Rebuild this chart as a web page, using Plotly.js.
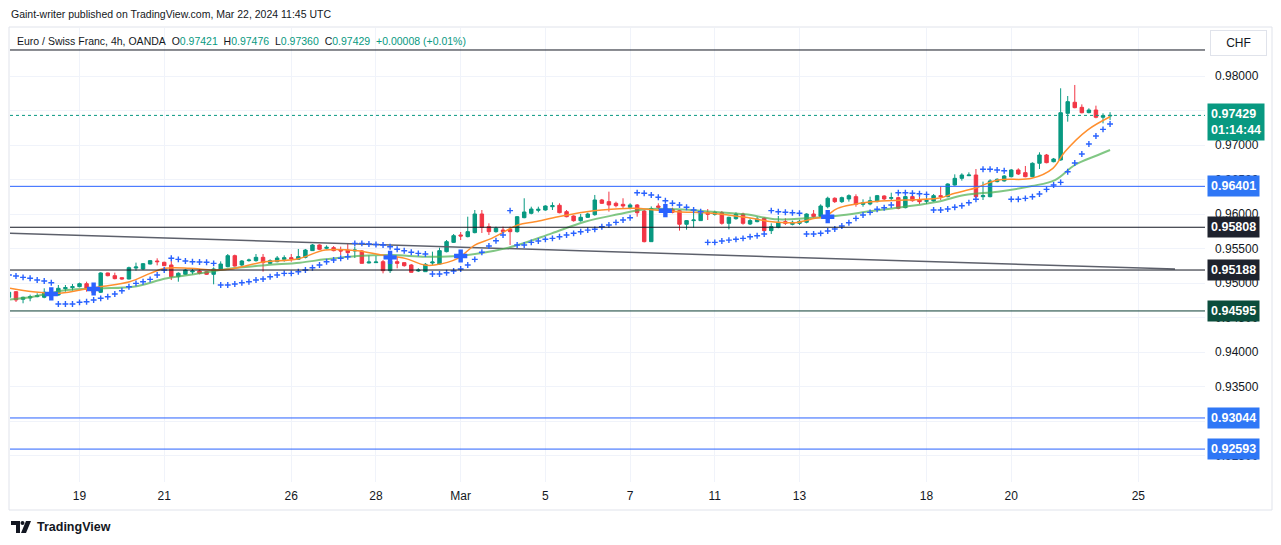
<!DOCTYPE html>
<html>
<head>
<meta charset="utf-8">
<script src="https://cdn.plot.ly/plotly-3.0.1.min.js"></script>
<style>
  html, body { margin: 0; padding: 0; background: #fff; }
  #chart { width: 1281px; height: 545px; }
</style>
</head>
<body>
<div id="chart"></div>
<script>
// EUR/CHF 4h bars (OANDA), one entry per bar, oldest first
const opens = [
  0.94793,0.94874,0.94764,0.94783,0.94802,0.94793,0.94866,0.94826,0.94918,0.94933,
  0.94947,0.94990,0.94923,0.94865,0.95145,0.95106,0.95077,0.95058,0.95217,0.95203,
  0.95275,0.95319,0.95300,0.95261,0.95092,0.95126,0.95160,0.95174,0.95164,0.95126,
  0.95198,0.95237,0.95396,0.95261,0.95324,0.95324,0.95372,0.95285,0.95309,0.95343,
  0.95367,0.95343,0.95372,0.95469,0.95551,0.95503,0.95512,0.95478,0.95478,0.95464,
  0.95464,0.95290,0.95295,0.95309,0.95179,0.95309,0.95295,0.95261,0.95174,0.95164,
  0.95290,0.95275,0.95454,0.95589,0.95696,0.95672,0.95730,0.96000,0.95817,0.95744,
  0.95768,0.95778,0.95744,0.95947,0.96010,0.96053,0.96058,0.96106,0.96126,0.96034,
  0.95971,0.95903,0.95952,0.95990,0.96203,0.96179,0.96155,0.96140,0.96097,0.96131,
  0.96043,0.95599,0.96116,0.96082,0.96068,0.96048,0.95851,0.95904,0.95904,0.96024,
  0.95995,0.96019,0.95865,0.95932,0.95999,0.95855,0.95889,0.95938,0.95759,0.95807,
  0.95889,0.95851,0.95865,0.95880,0.96000,0.95967,0.96106,0.96228,0.96179,0.96218,
  0.96251,0.96140,0.96145,0.96179,0.96261,0.96227,0.96237,0.96092,0.96252,0.96203,
  0.96184,0.96189,0.96266,0.96251,0.96420,0.96517,0.96555,0.96565,0.96251,0.96251,
  0.96469,0.96479,0.96541,0.96638,0.96599,0.96541,0.96735,0.96855,0.96758,0.96783,
  0.97459,0.97619,0.97546,0.97469,0.97507,0.97402,0.97421
];
const highs = [
  0.94899,0.94884,0.94802,0.94831,0.94851,0.94923,0.94890,0.94971,0.94971,0.94986,
  0.95005,0.95019,0.94957,0.95155,0.95150,0.95150,0.95082,0.95237,0.95295,0.95290,
  0.95329,0.95358,0.95309,0.95324,0.95155,0.95208,0.95203,0.95203,0.95174,0.95227,
  0.95314,0.95420,0.95411,0.95333,0.95353,0.95420,0.95420,0.95343,0.95391,0.95401,
  0.95420,0.95493,0.95493,0.95565,0.95560,0.95546,0.95536,0.95527,0.95575,0.95527,
  0.95478,0.95401,0.95391,0.95333,0.95406,0.95382,0.95300,0.95275,0.95213,0.95290,
  0.95454,0.95512,0.95623,0.95710,0.95739,0.95961,0.96058,0.96058,0.95865,0.95817,
  0.95817,0.95817,0.95971,0.96228,0.96106,0.96106,0.96126,0.96169,0.96155,0.96058,
  0.95981,0.96000,0.96019,0.96276,0.96218,0.96324,0.96179,0.96228,0.96155,0.96145,
  0.96058,0.96110,0.96155,0.96097,0.96092,0.96058,0.95913,0.96019,0.96043,0.96072,
  0.96048,0.96043,0.95961,0.96024,0.96019,0.95938,0.95961,0.95952,0.95865,0.95971,
  0.95938,0.95904,0.95918,0.96010,0.96058,0.96140,0.96251,0.96242,0.96252,0.96285,
  0.96285,0.96213,0.96251,0.96276,0.96271,0.96309,0.96252,0.96261,0.96276,0.96251,
  0.96261,0.96290,0.96396,0.96445,0.96575,0.96590,0.96604,0.96652,0.96469,0.96503,
  0.96517,0.96565,0.96652,0.96662,0.96696,0.96749,0.96894,0.96870,0.96812,0.97822,
  0.97710,0.97870,0.97589,0.97532,0.97570,0.97459,0.97476
];
const lows = [
  0.94768,0.94725,0.94706,0.94735,0.94793,0.94779,0.94800,0.94817,0.94874,0.94889,
  0.94937,0.94874,0.94841,0.94855,0.95097,0.95053,0.95048,0.95053,0.95179,0.95193,
  0.95270,0.95256,0.95246,0.95043,0.95019,0.95116,0.95126,0.95126,0.95116,0.94981,
  0.95188,0.95227,0.95237,0.95246,0.95309,0.95309,0.95164,0.95275,0.95300,0.95309,
  0.95309,0.95333,0.95357,0.95464,0.95478,0.95483,0.95459,0.95406,0.95372,0.95362,
  0.95285,0.95285,0.95290,0.95140,0.95145,0.95213,0.95237,0.95150,0.95160,0.95160,
  0.95261,0.95261,0.95444,0.95580,0.95623,0.95662,0.95720,0.95725,0.95696,0.95730,
  0.95720,0.95551,0.95730,0.95938,0.95995,0.96024,0.96048,0.96058,0.96010,0.95952,
  0.95889,0.95889,0.95942,0.95976,0.96145,0.96034,0.96097,0.96082,0.96068,0.95961,
  0.95589,0.95594,0.96068,0.96010,0.96010,0.95759,0.95773,0.95802,0.95899,0.95913,
  0.95976,0.95846,0.95778,0.95918,0.95846,0.95841,0.95880,0.95749,0.95710,0.95793,
  0.95841,0.95836,0.95841,0.95865,0.95947,0.95957,0.96082,0.96160,0.96160,0.96179,
  0.96106,0.96106,0.96126,0.96169,0.96203,0.96203,0.96068,0.96082,0.96179,0.96145,
  0.96145,0.96179,0.96203,0.96242,0.96411,0.96483,0.96550,0.96228,0.96203,0.96242,
  0.96459,0.96469,0.96531,0.96565,0.96532,0.96532,0.96652,0.96735,0.96749,0.96773,
  0.97338,0.97532,0.97459,0.97459,0.97387,0.97314,0.97360
];
const closes = [
  0.94866,0.94754,0.94793,0.94802,0.94817,0.94866,0.94826,0.94923,0.94933,0.94947,
  0.94990,0.94923,0.94860,0.95145,0.95106,0.95063,0.95058,0.95222,0.95232,0.95280,
  0.95324,0.95309,0.95251,0.95092,0.95141,0.95188,0.95174,0.95140,0.95126,0.95203,
  0.95275,0.95396,0.95246,0.95319,0.95333,0.95372,0.95295,0.95324,0.95362,0.95367,
  0.95348,0.95382,0.95478,0.95551,0.95488,0.95517,0.95469,0.95464,0.95440,0.95478,
  0.95285,0.95304,0.95304,0.95179,0.95319,0.95285,0.95251,0.95155,0.95188,0.95271,
  0.95304,0.95469,0.95599,0.95686,0.95681,0.95744,0.96000,0.95807,0.95744,0.95793,
  0.95744,0.95744,0.95961,0.96029,0.96072,0.96068,0.96116,0.96121,0.96019,0.95961,
  0.95903,0.95952,0.96000,0.96203,0.96155,0.96131,0.96121,0.96116,0.96131,0.96019,
  0.95599,0.96080,0.96097,0.96024,0.96024,0.95851,0.95904,0.95913,0.96019,0.95995,
  0.96024,0.95865,0.95952,0.95999,0.95865,0.95904,0.95928,0.95759,0.95817,0.95880,
  0.95865,0.95880,0.95894,0.96000,0.95962,0.96116,0.96228,0.96179,0.96237,0.96266,
  0.96140,0.96164,0.96193,0.96266,0.96218,0.96237,0.96082,0.96252,0.96193,0.96179,
  0.96193,0.96266,0.96251,0.96435,0.96517,0.96565,0.96565,0.96251,0.96266,0.96479,
  0.96503,0.96551,0.96638,0.96580,0.96541,0.96735,0.96855,0.96744,0.96797,0.97468,
  0.97628,0.97541,0.97468,0.97507,0.97402,0.97425,0.97429
];
// parabolic SAR, one value per bar
const sar = [
  0.95115,0.95101,0.95082,0.95068,0.95043,0.95029,0.95004,0.94695,0.94695,0.94695,
  0.94720,0.94728,0.94753,0.94778,0.94801,0.94840,0.94888,0.94946,0.94995,0.95018,
  0.95053,0.95115,0.95188,0.95358,0.95343,0.95318,0.95308,0.95304,0.95300,0.95285,
  0.94971,0.94971,0.94985,0.95004,0.95018,0.95043,0.95057,0.95091,0.95115,0.95140,
  0.95140,0.95163,0.95188,0.95221,0.95260,0.95308,0.95333,0.95358,0.95381,0.95575,
  0.95575,0.95565,0.95558,0.95551,0.95526,0.95489,0.95468,0.95445,0.95430,0.95420,
  0.95130,0.95130,0.95149,0.95173,0.95202,0.95260,0.95343,0.95445,0.95536,0.95613,
  0.95695,0.96049,0.95551,0.95551,0.95589,0.95608,0.95633,0.95647,0.95671,0.95695,
  0.95720,0.95743,0.95767,0.95778,0.95815,0.95840,0.95879,0.95913,0.95946,0.96308,
  0.96300,0.96275,0.96242,0.96192,0.96155,0.96130,0.96097,0.96058,0.96033,0.95589,
  0.95589,0.95608,0.95622,0.95633,0.95647,0.95671,0.95685,0.95710,0.96049,0.96033,
  0.96025,0.96019,0.96010,0.95710,0.95710,0.95720,0.95753,0.95782,0.95826,0.95874,
  0.95937,0.95985,0.96024,0.96068,0.96091,0.96130,0.96308,0.96308,0.96300,0.96294,
  0.96285,0.96058,0.96058,0.96072,0.96097,0.96120,0.96163,0.96213,0.96648,0.96648,
  0.96637,0.96627,0.96213,0.96213,0.96227,0.96250,0.96289,0.96357,0.96420,0.96459,
  0.96613,0.96739,0.96869,0.97014,0.97130,0.97227,0.97304
];
// fast moving average (orange), read at bar positions
const fastX = [0.15,3.4,6.8,10.1,12.9,17.1,20,22.1,25.6,28.9,31.3,33,36.3,40.9,44.8,49.4,52.8,56.1,58.9,60.3,63.6,66,68.4,72.1,74.5,77.8,81.6,84,88.7,91.5,94.8,99.6,104.3,108.1,111.3,114.2,115.6,117.4,122.2,126.9,131.6,134,136.8,140.1,144.9,147.9,149.6,152.8,156];
const fastY = [0.94923,0.94873,0.94850,0.94898,0.94946,0.95018,0.95140,0.95213,0.95213,0.95188,0.95198,0.95236,0.95308,0.95347,0.95478,0.95468,0.95405,0.95357,0.95260,0.95260,0.95357,0.95550,0.95647,0.95840,0.95888,0.95960,0.96029,0.96058,0.96082,0.96058,0.96033,0.96010,0.95952,0.95888,0.95874,0.95937,0.95961,0.96082,0.96178,0.96203,0.96227,0.96300,0.96372,0.96492,0.96517,0.96662,0.96902,0.97217,0.97410];
// slow moving average (green)
const slowX = [0.15,3.4,8.2,12.9,17.6,22.4,27.1,31.7,36.6,41.2,44.8,49.4,54.3,59,63.6,68.8,72.1,76.9,81.6,86.3,90.1,94.8,99.6,104.3,108.9,112.8,117.4,122.2,126.9,131.6,135.4,140.1,144.9,148.2,151,154.3,156];
const slowY = [0.94760,0.94801,0.94898,0.94923,0.94946,0.95068,0.95140,0.95213,0.95260,0.95294,0.95343,0.95391,0.95405,0.95381,0.95391,0.95468,0.95550,0.95720,0.95888,0.95995,0.96068,0.96068,0.96033,0.95995,0.95923,0.95937,0.95975,0.96043,0.96105,0.96178,0.96275,0.96323,0.96405,0.96492,0.96710,0.96855,0.96927];
// average cross markers
const crossX = [6, 12, 54, 64, 93, 116];
const crossY = [0.94841, 0.94913, 0.95372, 0.95391, 0.96048, 0.95961];
// descending trend line
const trendX = [0.15, 165.2];
const trendY = [0.95720, 0.95202];
// horizontal levels
const levels = [0.96401, 0.95808, 0.95188, 0.94595, 0.93044, 0.92593];
const topLevel = 0.98377;
const lastPrice = 0.97429;
const timer = '01:14:44';
const dayTicks = [10, 22, 40, 52, 64, 76, 88, 100, 112, 130, 142, 160];
const dayLabels = ['19', '21', '26', '28', 'Mar', '5', '7', '11', '13', '18', '20', '25'];
const priceTicks = [0.925, 0.93, 0.935, 0.94, 0.945, 0.95, 0.955, 0.96, 0.965, 0.97, 0.975, 0.98];

const levelColors = ['#2962ff', '#131722', '#131722', '#0b3d32', '#2962ff', '#2962ff'];
const labelColors = ['#2f77f6', '#1e222d', '#1e222d', '#0b4d3c', '#2f77f6', '#2f77f6'];

const FONT = 'Liberation Sans, Arial, sans-serif';
const TOP = 28, BOTTOM = 482, LEFT = 10, RIGHT = 1205;
const px = v => (v - LEFT) / (RIGHT - LEFT);
const py = v => 1 - (v - TOP) / (BOTTOM - TOP);

const bars = opens.map((_, i) => i);

const traces = [
  {
    type: 'candlestick',
    x: bars, open: opens, high: highs, low: lows, close: closes,
    increasing: { line: { color: '#089981', width: 1 }, fillcolor: '#089981' },
    decreasing: { line: { color: '#f23645', width: 1 }, fillcolor: '#f23645' },
    whiskerwidth: 0,
    hoverinfo: 'skip'
  },
  {
    type: 'scatter', mode: 'lines', x: trendX, y: trendY,
    line: { color: '#5d606b', width: 1.5 }, hoverinfo: 'skip'
  },
  {
    type: 'scatter', mode: 'lines', x: slowX, y: slowY,
    line: { color: 'rgba(76,175,80,0.7)', width: 2, shape: 'spline' }, hoverinfo: 'skip'
  },
  {
    type: 'scatter', mode: 'lines', x: fastX, y: fastY,
    line: { color: '#ff8f2e', width: 1.5, shape: 'spline' }, hoverinfo: 'skip'
  },
  {
    type: 'scatter', mode: 'markers', x: bars, y: sar,
    marker: { symbol: 'cross-thin', size: 4.2, color: '#2962ff', line: { width: 1.4, color: '#2962ff' } },
    hoverinfo: 'skip'
  },
  {
    type: 'scatter', mode: 'markers', x: crossX, y: crossY,
    marker: { symbol: 'cross', size: 11, color: '#2962ff', line: { width: 0 } }, hoverinfo: 'skip'
  }
];

const shapes = [
  // chart frame
  { type: 'rect', xref: 'paper', yref: 'paper', x0: px(9), x1: px(1272), y0: py(27), y1: py(510),
    line: { color: '#e0e3eb', width: 1 }, layer: 'below' },
  { type: 'line', xref: 'paper', yref: 'y', x0: 0, x1: 1, y0: topLevel, y1: topLevel,
    line: { color: '#131722', width: 1 } },
  { type: 'line', xref: 'paper', yref: 'y', x0: 0, x1: 1, y0: lastPrice, y1: lastPrice,
    line: { color: '#089981', width: 1, dash: 'dot' } }
];
levels.forEach((lv, k) => {
  shapes.push({ type: 'line', xref: 'paper', yref: 'y', x0: 0, x1: 1, y0: lv, y1: lv,
    line: { color: levelColors[k], width: 1 } });
});

const annotations = [
  { xref: 'paper', yref: 'paper', x: px(9), y: py(14), xanchor: 'left', yanchor: 'middle', showarrow: false,
    text: 'Gaint-writer published on TradingView.com, Mar 22, 2024 11:45 UTC',
    font: { family: FONT, size: 10.5, color: '#131722' } },
  { xref: 'paper', yref: 'paper', x: px(15), y: py(41), xanchor: 'left', yanchor: 'middle', showarrow: false,
    text: 'Euro / Swiss Franc, 4h, OANDA&nbsp; O<span style="color:#089981">0.97421</span>&nbsp; H<span style="color:#089981">0.97476</span>&nbsp; L<span style="color:#089981">0.97360</span>&nbsp; C<span style="color:#089981">0.97429</span>&nbsp; <span style="color:#089981">+0.00008 (+0.01%)</span>',
    font: { family: FONT, size: 10.5, color: '#131722' } },
  { xref: 'paper', yref: 'paper', x: px(1238), y: py(43), xanchor: 'center', yanchor: 'middle', showarrow: false,
    text: 'CHF', font: { family: FONT, size: 12, color: '#131722' },
    bordercolor: '#e0e3eb', borderwidth: 1, borderpad: 5, bgcolor: '#ffffff', width: 45 },
  { xref: 'paper', yref: 'paper', x: px(35), y: py(527), xanchor: 'left', yanchor: 'middle', showarrow: false,
    text: '<b>TradingView</b>', font: { family: FONT, size: 12.5, color: '#131722' } },
  { xref: 'paper', yref: 'y', x: 1, y: lastPrice, xanchor: 'left', yanchor: 'middle', yshift: -7, xshift: 2,
    showarrow: false, align: 'left',
    text: '<b>' + lastPrice.toFixed(5) + '</b><br><b>' + timer + '</b>',
    font: { family: FONT, size: 12.5, color: '#ffffff' }, bgcolor: '#089981', borderpad: 3 }
];
levels.forEach((lv, k) => {
  annotations.push({ xref: 'paper', yref: 'y', x: 1, y: lv, xanchor: 'left', yanchor: 'middle', xshift: 2,
    showarrow: false, text: '<b>' + lv.toFixed(5) + '</b>',
    font: { family: FONT, size: 12.5, color: '#ffffff' }, bgcolor: labelColors[k], borderpad: 3 });
});

// TradingView logo mark
const logoPath = (pts) => 'M' + pts.map(p => px(p[0]) + ',' + py(p[1])).join(' L') + ' Z';
shapes.push({ type: 'path', xref: 'paper', yref: 'paper', fillcolor: '#131722', line: { width: 0 },
  path: logoPath([[11, 521], [20, 521], [20, 533], [16, 533], [16, 525], [11, 525]]) });
shapes.push({ type: 'circle', xref: 'paper', yref: 'paper', fillcolor: '#131722', line: { width: 0 },
  x0: px(20.5), x1: px(24.5), y0: py(521), y1: py(525) });
shapes.push({ type: 'path', xref: 'paper', yref: 'paper', fillcolor: '#131722', line: { width: 0 },
  path: logoPath([[26, 521], [31, 521], [26, 533], [21, 533]]) });

const layout = {
  width: 1281, height: 545,
  margin: { l: LEFT, r: 1281 - RIGHT, t: TOP, b: 545 - BOTTOM },
  paper_bgcolor: '#ffffff', plot_bgcolor: '#ffffff',
  showlegend: false, hovermode: false, dragmode: false,
  font: { family: FONT, size: 12, color: '#131722' },
  xaxis: {
    type: 'linear', range: [0.15, 169.45],
    tickmode: 'array', tickvals: dayTicks, ticktext: dayLabels,
    showgrid: true, gridcolor: '#f0f3fa', zeroline: false, showline: false, ticks: '',
    ticklabelstandoff: 5,
    tickfont: { family: FONT, size: 12, color: '#131722' },
    rangeslider: { visible: false }, fixedrange: true
  },
  yaxis: {
    side: 'right', range: [0.921159, 0.986957],
    tickmode: 'array', tickvals: priceTicks, ticktext: priceTicks.map(v => v.toFixed(5)),
    showgrid: true, gridcolor: '#f0f3fa', zeroline: false, showline: false, ticks: '',
    ticklabelstandoff: 9,
    tickfont: { family: FONT, size: 12, color: '#131722' }, fixedrange: true
  },
  shapes: shapes,
  annotations: annotations
};

Plotly.newPlot('chart', traces, layout, { displayModeBar: false, staticPlot: true });
</script>
</body>
</html>
